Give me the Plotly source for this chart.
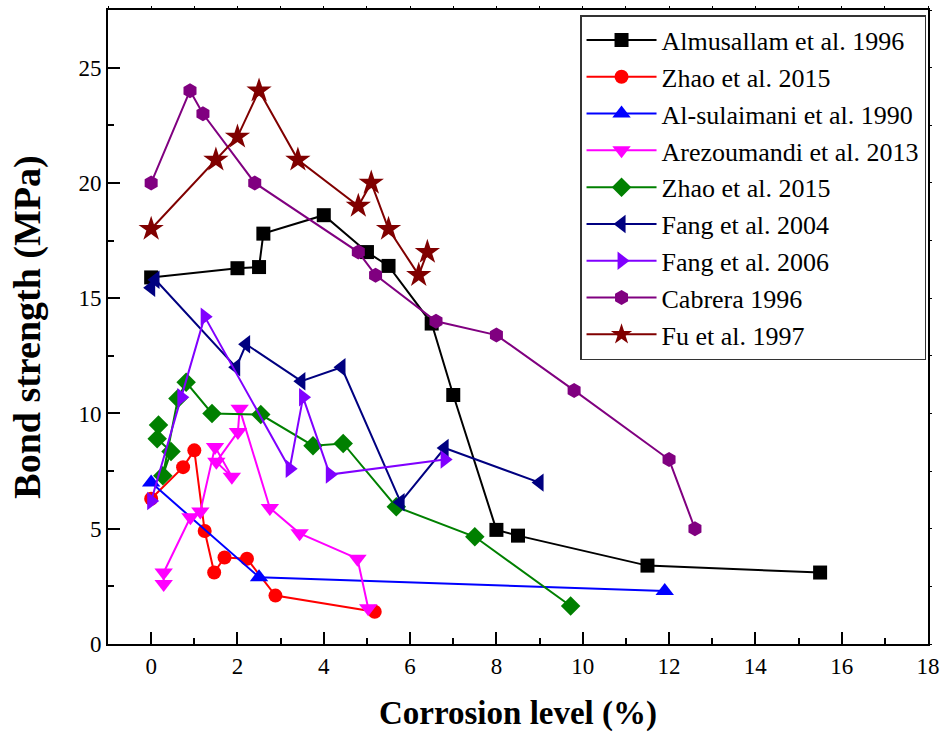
import plotly.graph_objects as go

# ---- data ----
names = ["Almusallam et al. 1996", "Zhao et al. 2015", "Al-sulaimani et al. 1990",
         "Arezoumandi et al. 2013", "Zhao et al. 2015", "Fang et al. 2004",
         "Fang et al. 2006", "Cabrera 1996", "Fu et al. 1997"]

almusallam_x = [0, 2, 2.5, 2.6, 4, 5, 5.5, 6.5, 7, 8, 8.5, 11.5, 15.5]
almusallam_y = [15.9, 16.3, 16.35, 17.8, 18.6, 17.0, 16.4, 13.9, 10.8, 4.95, 4.7, 3.4, 3.1]

zhao_a_x = [0, 0.74, 1.0, 1.24, 1.46, 1.7, 2.22, 2.88, 5.18]
zhao_a_y = [6.3, 7.67, 8.4, 4.9, 3.1, 3.75, 3.7, 2.1, 1.4]

alsul_x = [0, 2.5, 11.9]
alsul_y = [7.0, 2.9, 2.3]

arez_x = [0.29, 0.29, 0.91, 1.14, 1.48, 1.87, 1.51, 2.01, 2.05, 2.75, 3.44, 4.78, 5.03]
arez_y = [2.6, 3.1, 5.5, 5.75, 8.55, 7.25, 7.9, 9.2, 10.2, 5.9, 4.8, 3.7, 1.55]

zhao_b_x = [0.17, 0.14, 0.46, 0.27, 0.62, 0.81, 1.41, 2.54, 3.75, 4.45, 5.68, 7.5, 9.72]
zhao_b_y = [9.5, 8.9, 8.35, 7.3, 10.65, 11.35, 10.0, 9.95, 8.6, 8.7, 5.95, 4.65, 1.65]

fang04_x = [0, 0.1, 1.97, 2.2, 3.48, 4.41, 5.78, 6.8, 9.0]
fang04_y = [15.45, 15.8, 12.0, 13.0, 11.4, 12.0, 6.15, 8.5, 7.0]

fang06_x = [0, 0.7, 1.24, 3.21, 3.52, 4.14, 6.8]
fang06_y = [6.2, 10.7, 14.2, 7.6, 10.7, 7.35, 8.0]

cabrera_x = [0, 0.9, 1.2, 2.4, 4.8, 5.2, 6.6, 8.0, 9.8, 12.0, 12.6]
cabrera_y = [20, 24, 23, 20, 17, 16, 14, 13.4, 11, 8, 5]

fu_x = [0, 1.5, 2, 2.5, 3.4, 4.8, 5.1, 5.5, 6.2, 6.4]
fu_y = [18, 21, 22, 24, 21, 19, 20, 18, 16, 17]

xs = [almusallam_x, zhao_a_x, alsul_x, arez_x, zhao_b_x, fang04_x, fang06_x, cabrera_x, fu_x]
ys = [almusallam_y, zhao_a_y, alsul_y, arez_y, zhao_b_y, fang04_y, fang06_y, cabrera_y, fu_y]

colors = ["#000000", "#FF0000", "#0000FF", "#FF00FF", "#008000", "#000080", "#8000FF", "#800080", "#800000"]
symbols = ["square", "circle", "triangle-up", "triangle-down", "diamond", "triangle-left",
           "triangle-right", "hexagon", "star"]
sizes = [14, 14, 16, 16, 15, 16, 16, 15, 19]

x_ticks = list(range(0, 19, 2))
y_ticks = [0, 5, 10, 15, 20, 25]

FONT = "Liberation Serif, Times New Roman, serif"

fig = go.Figure()
for n, x, y, c, s, sz in zip(names, xs, ys, colors, symbols, sizes):
    fig.add_trace(go.Scatter(
        x=x, y=y, name=n, mode="lines+markers",
        line=dict(color=c, width=2),
        marker=dict(symbol=s, size=sz, color=c, line=dict(width=0)),
    ))

# empty helper trace so the overlay axes (small outer ticks) are drawn
fig.add_trace(go.Scatter(x=[], y=[], xaxis="x2", yaxis="y2", showlegend=False))

axis_common = dict(
    showgrid=False, zeroline=False, showline=True, linecolor="black", linewidth=2,
    mirror=True, ticks="inside", ticklen=12, tickwidth=2, tickcolor="black",
    tickfont=dict(family=FONT, size=23, color="black"), automargin=False,
)

fig.update_layout(
    width=942, height=732,
    margin=dict(l=108, r=14, t=10, b=88),
    plot_bgcolor="white", paper_bgcolor="white",
    font=dict(family=FONT, color="black"),
    xaxis=dict(
        range=[-1, 18], tickvals=x_ticks, ticktext=[str(v) for v in x_ticks],
        minor=dict(ticks="inside", dtick=1, ticklen=6, tickwidth=2, tickcolor="black"),
        title=dict(text="<b>Corrosion level (%)</b>", font=dict(family=FONT, size=33), standoff=24),
        **axis_common,
    ),
    yaxis=dict(
        range=[0, 27.5], tickvals=y_ticks, ticktext=[str(v) for v in y_ticks],
        minor=dict(ticks="inside", dtick=2.5, ticklen=6, tickwidth=2, tickcolor="black"),
        title=dict(text="<b>Bond strength (MPa)</b>", font=dict(family=FONT, size=38), standoff=26),
        **axis_common,
    ),
    xaxis2=dict(range=[-1, 18], overlaying="x", side="top", showgrid=False, zeroline=False,
                showline=False, ticks="outside", dtick=1, tick0=0, ticklen=3, tickwidth=1,
                tickcolor="black", showticklabels=False, automargin=False),
    yaxis2=dict(range=[0, 27.5], overlaying="y", side="right", showgrid=False, zeroline=False,
                showline=False, ticks="outside", dtick=2.5, tick0=0, ticklen=3, tickwidth=1,
                tickcolor="black", showticklabels=False, automargin=False),
    legend=dict(
        x=0.9976, y=0.992, xanchor="right", yanchor="top",
        bgcolor="white", bordercolor="#333333", borderwidth=1.5,
        font=dict(family=FONT, size=26, color="black"),
        itemwidth=70, tracegroupgap=0,
    ),
    showlegend=True,
)

fig.write_html("out.html")
